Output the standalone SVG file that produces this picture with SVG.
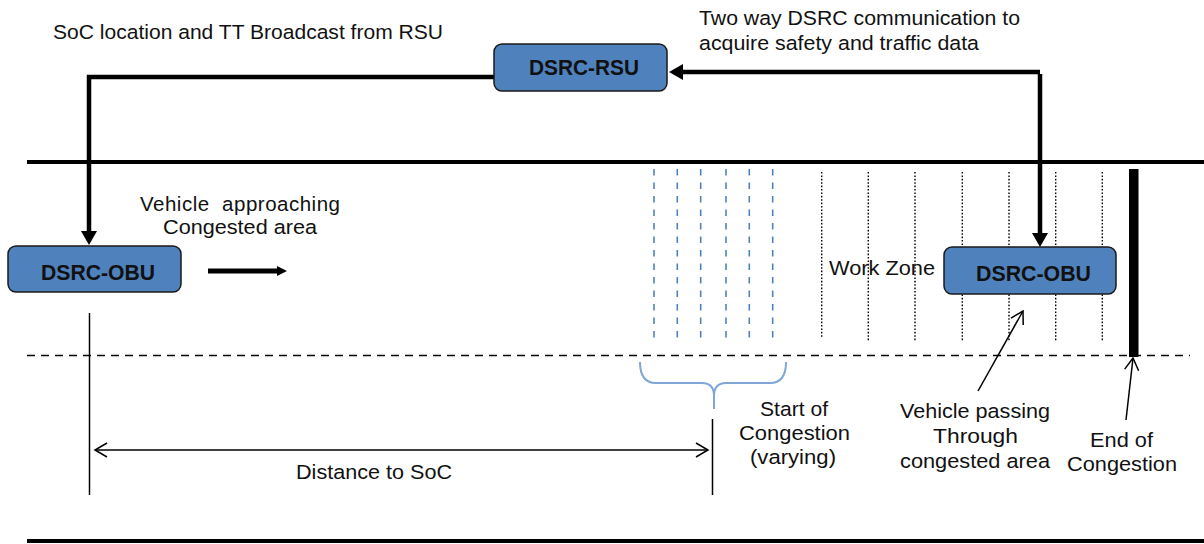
<svg xmlns="http://www.w3.org/2000/svg" width="1204" height="544" viewBox="0 0 1204 544">
<style>
.t{font-family:"Liberation Sans",Arial,sans-serif;font-size:20.5px;fill:#111}
.b{font-family:"Liberation Sans",Arial,sans-serif;font-size:22px;font-weight:bold;fill:#111;text-anchor:middle}
.box{fill:#4F81BD;stroke:#1a1a1a;stroke-width:1.5}
.thick{stroke:#000;stroke-width:4.5;fill:none}
.thin{stroke:#000;stroke-width:1.5;fill:none}
.blue{stroke:#4F81BD;stroke-width:1.6;stroke-dasharray:6.5 7}
.dot{stroke:#000;stroke-width:1.4;stroke-dasharray:1.6 1.8}
</style>
<defs>
<marker id="ah" markerUnits="userSpaceOnUse" markerWidth="16" markerHeight="16" refX="2" refY="8" orient="auto"><path d="M0,0 L14,8 L0,16 z" fill="#000"/></marker>
<marker id="ahs" markerUnits="userSpaceOnUse" markerWidth="12" markerHeight="10" refX="2" refY="5" orient="auto"><path d="M0,0 L10,5 L0,10 z" fill="#000"/></marker>
<marker id="open" markerUnits="userSpaceOnUse" markerWidth="16" markerHeight="16" refX="13" refY="8" orient="auto"><path d="M1,1 L13,8 L1,15" fill="none" stroke="#000" stroke-width="1.5"/></marker>
<marker id="openS" markerUnits="userSpaceOnUse" markerWidth="16" markerHeight="16" refX="13" refY="8" orient="auto-start-reverse"><path d="M1,1 L13,8 L1,15" fill="none" stroke="#000" stroke-width="1.5"/></marker>
</defs>

<g id="road">
<line x1="27" y1="162" x2="1204" y2="162" stroke="#000" stroke-width="4"/>
<line x1="27" y1="541" x2="1204" y2="541" stroke="#000" stroke-width="4"/>
<line x1="27" y1="355.5" x2="1190" y2="355.5" stroke="#000" stroke-width="1.5" stroke-dasharray="8 6"/>
</g>

<g id="congestion-start-lines">
<line class="blue" x1="654" y1="169" x2="654" y2="342"/>
<line class="blue" x1="677.3" y1="169" x2="677.3" y2="342"/>
<line class="blue" x1="700.7" y1="169" x2="700.7" y2="342"/>
<line class="blue" x1="726" y1="169" x2="726" y2="342"/>
<line class="blue" x1="749.3" y1="169" x2="749.3" y2="342"/>
<line class="blue" x1="772.7" y1="169" x2="772.7" y2="342"/>
</g>

<g id="work-zone-lines">
<line class="dot" x1="821.7" y1="172" x2="821.7" y2="337"/>
<line class="dot" x1="868.3" y1="172" x2="868.3" y2="341"/>
<line class="dot" x1="915" y1="172" x2="915" y2="341"/>
<line class="dot" x1="962.3" y1="172" x2="962.3" y2="341"/>
<line class="dot" x1="1009" y1="172" x2="1009" y2="341"/>
<line class="dot" x1="1055.7" y1="172" x2="1055.7" y2="341"/>
<line class="dot" x1="1102.3" y1="172" x2="1102.3" y2="341"/>
</g>

<g id="end-bar">
<rect x="1129" y="169" width="9.5" height="188" fill="#000"/>
</g>

<g id="brace">
<path d="M640,362 Q640,383 656,383 L702,383 Q714,383 714,396 L714,409 M714,396 Q714,383 726,383 L770,383 Q786,383 786,362" fill="none" stroke="#7FA6D6" stroke-width="2"/>
</g>

<g id="connectors">
<path class="thick" d="M494,77 L89,77 L89,233" marker-end="url(#ah)"/>
<path class="thick" d="M1040,72 L681,72" marker-end="url(#ah)"/>
<path class="thick" d="M1040,74 L1040,235" marker-end="url(#ah)"/>
<path d="M208,271 L279,271" stroke="#000" stroke-width="5" marker-end="url(#ahs)"/>
<path class="thin" d="M978,391 L1023,311" marker-end="url(#open)"/>
<path class="thin" d="M1126,420 L1133,358" marker-end="url(#open)"/>
<path class="thin" d="M95,450 L708,450" marker-start="url(#openS)" marker-end="url(#openS)"/>
<line class="thin" x1="89.5" y1="313" x2="89.5" y2="495"/>
<line class="thin" x1="712.5" y1="419" x2="712.5" y2="495"/>
</g>

<g id="rsu">
<rect class="box" x="494" y="44" width="173" height="47" rx="8"/>
<text class="b" x="584" y="75" textLength="110" lengthAdjust="spacingAndGlyphs">DSRC-RSU</text>
</g>

<g id="obu-left">
<rect class="box" x="8" y="246" width="173" height="46" rx="8"/>
<text class="b" x="98" y="280" textLength="114" lengthAdjust="spacingAndGlyphs">DSRC-OBU</text>
</g>

<g id="obu-right">
<rect class="box" x="944" y="247" width="172" height="47" rx="8"/>
<text class="b" x="1033.5" y="281" textLength="115" lengthAdjust="spacingAndGlyphs">DSRC-OBU</text>
</g>

<g id="labels">
<text class="t" x="53" y="39" textLength="390" lengthAdjust="spacingAndGlyphs">SoC location and TT Broadcast from RSU</text>
<text class="t" x="699" y="25" textLength="321" lengthAdjust="spacingAndGlyphs">Two way DSRC communication to</text>
<text class="t" x="699" y="50" textLength="280" lengthAdjust="spacingAndGlyphs">acquire safety and traffic data</text>
<text class="t" x="140" y="211" textLength="200" lengthAdjust="spacing" xml:space="preserve">Vehicle  approaching</text>
<text class="t" x="163" y="234" textLength="154" lengthAdjust="spacingAndGlyphs">Congested area</text>
<text class="t" x="829" y="275" textLength="106" lengthAdjust="spacingAndGlyphs">Work Zone</text>
<text class="t" x="760" y="416" textLength="68" lengthAdjust="spacingAndGlyphs">Start of</text>
<text class="t" x="739" y="440" textLength="111" lengthAdjust="spacingAndGlyphs">Congestion</text>
<text class="t" x="750" y="464" textLength="86" lengthAdjust="spacingAndGlyphs">(varying)</text>
<text class="t" x="900" y="418" textLength="150" lengthAdjust="spacingAndGlyphs">Vehicle passing</text>
<text class="t" x="933" y="443" textLength="85" lengthAdjust="spacingAndGlyphs">Through</text>
<text class="t" x="900" y="468" textLength="150" lengthAdjust="spacingAndGlyphs">congested area</text>
<text class="t" x="1090" y="447" textLength="63" lengthAdjust="spacingAndGlyphs">End of</text>
<text class="t" x="1067" y="471" textLength="110" lengthAdjust="spacingAndGlyphs">Congestion</text>
<text class="t" x="296" y="479" textLength="156" lengthAdjust="spacingAndGlyphs">Distance to SoC</text>
</g>
</svg>
